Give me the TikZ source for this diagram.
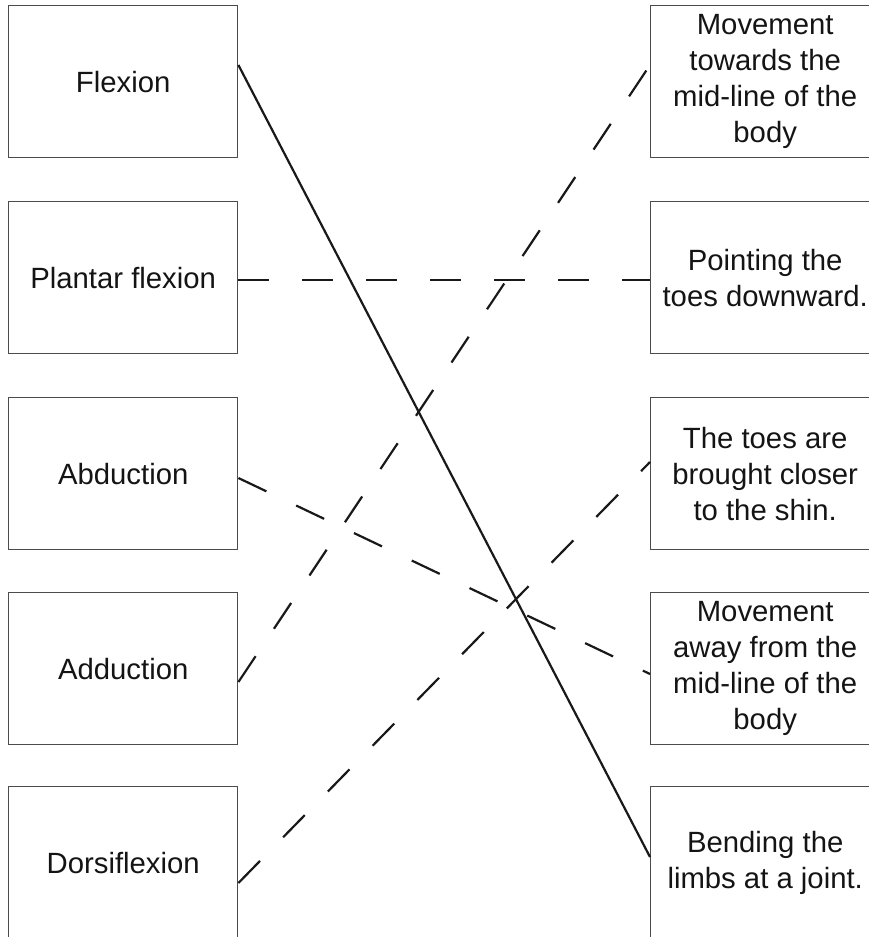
\documentclass[tikz,border=0pt]{standalone}
\usepackage{fontspec}
\setmainfont{Liberation Sans}
\begin{document}
\begin{tikzpicture}[x=1pt,y=1pt,
  box/.style={draw=black!70, line width=1.4pt, minimum width=229pt, minimum height=152pt,
    inner sep=0pt, align=center, anchor=north west, text=black!92,
    font=\fontsize{29.3}{36}\selectfont},
  link/.style={line width=2.2pt, draw=black!90},
  dlink/.style={link, dash pattern=on 31pt off 33pt}]
\useasboundingbox (0,0) rectangle (869,-937);
\clip (0,0) rectangle (869,-937);
% left boxes
\node[box] (L1) at (8,-5) {Flexion};
\node[box] (L2) at (8,-201) {Plantar flexion};
\node[box] (L3) at (8,-397) {Abduction};
\node[box] (L4) at (8,-592) {Adduction};
\node[box] (L5) at (8,-786) {Dorsiflexion};
% right boxes
\node[box] (R1) at (650,-5) {Movement\\towards the\\mid-line of the\\body};
\node[box] (R2) at (650,-201) {Pointing the\\toes downward.};
\node[box] (R3) at (650,-397) {The toes are\\brought closer\\to the shin.};
\node[box] (R4) at (650,-592) {Movement\\away from the\\mid-line of the\\body};
\node[box] (R5) at (650,-786) {Bending the\\limbs at a joint.};
% connector end points
\coordinate (a1) at ([yshift=-60pt]L1.north east);
\coordinate (a2) at ([yshift=-79pt]L2.north east);
\coordinate (a3) at ([yshift=-81pt]L3.north east);
\coordinate (a4) at ([yshift=-90pt]L4.north east);
\coordinate (a5) at ([yshift=-97pt]L5.north east);
\coordinate (b1) at ([yshift=-60pt]R1.north west);
\coordinate (b2) at ([yshift=-79pt]R2.north west);
\coordinate (b3) at ([yshift=-65pt]R3.north west);
\coordinate (b4) at ([yshift=-82pt]R4.north west);
\coordinate (b5) at ([yshift=-71pt]R5.north west);
% connectors
\draw[link] (a1) -- (b5);
\draw[dlink] (a2) -- (b2);
\draw[dlink] (a3) -- (b4);
\draw[dlink] (a4) -- (b1);
\draw[dlink] (a5) -- (b3);
\end{tikzpicture}
\end{document}
